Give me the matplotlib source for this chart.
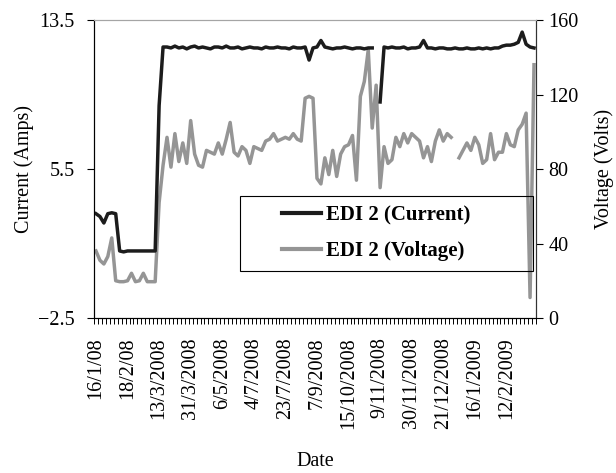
import numpy as np
import matplotlib
matplotlib.use('Agg')
import matplotlib.pyplot as plt
from matplotlib.patches import Rectangle

plt.rcParams['font.family'] = ['Liberation Serif', 'DejaVu Serif']

nan = np.nan
# current readings (Amps), one per category on the date axis
current = [3.1, 2.95, 2.6, 3.1, 3.15, 3.1,
           1.1, 1.05, 1.1, 1.1, 1.1, 1.1, 1.1, 1.1, 1.1, 1.1,
           8.9, 12.05,
           12.05, 12.0, 12.1, 12.0, 12.05, 11.95, 12.05, 12.1, 12.0, 12.05, 12.0, 11.95,
           12.05, 12.05, 12.0, 12.1, 12.0, 12.0, 12.05, 11.95, 12.0, 12.05, 12.0, 12.0,
           11.95, 12.05, 12.0, 12.0, 12.05, 12.0, 12.0, 11.95, 12.05, 12.0, 12.0, 12.05,
           11.35, 12.0, 12.05, 12.4, 12.05,
           12.0, 11.95, 12.0, 12.0, 12.05, 12.0, 11.95, 12.0, 12.0, 11.95, 12.0,
           12.0, nan, 9.1, 12.05,
           12.0, 12.05, 12.0, 12.0, 12.05, 11.95, 12.0, 12.0, 12.05,
           12.4,
           12.0, 12.0, 11.95, 12.0, 12.0, 11.95, 11.95, 12.0, 11.95, 11.95,
           12.0, 11.95, 11.95, 12.0, 11.95, 12.0, 11.95, 12.0, 12.0,
           12.1, 12.15, 12.15, 12.2, 12.3, 12.85, 12.2, 12.05, 12.0]

# voltage readings (Volts)
voltage = [36, 31, 29, 33, 43, 20,
           19.5, 19.5, 20, 24, 19.5, 20, 24, 19.5, 19.5, 19.5,
           62, 82,
           97, 81, 99, 84, 94, 83, 106, 88, 82, 81, 90, 89, 88, 94, 88, 96, 105, 89,
           87, 92, 90, 83, 92, 91, 90, 95, 96, 99, 95, 96, 97, 96, 99, 96, 95,
           118, 119, 118, 75, 72, 86, 77, 90, 76, 88, 92, 93, 98, 74,
           119, 127, 144, 102, 125, 70, 92, 83, 85, 97, 92, 99, 94, 99, 97, 95,
           86, 92, 84, 95, 101, 95, 99, 97, nan, 86, 90, 94, 90, 97, 93, 83, 85,
           99, 85, 89, 89, 99, 93, 92, 101, 104, 110, 11, 136]

date_labels = ['16/1/08', '18/2/08', '13/3/2008', '31/3/2008', '6/5/2008', '4/7/2008',
               '23/7/2008', '7/9/2008', '15/10/2008', '9/11/2008', '30/11/2008',
               '21/12/2008', '16/1/2009', '12/2/2009']

n = len(current)
x = np.arange(n)

fig = plt.figure(figsize=(6.16, 4.73), dpi=100)
ax = fig.add_axes([0.1526, 0.3277, 0.7175, 0.630])
ax2 = ax.twinx()

ax2.plot(x, voltage, color='#959595', lw=2.5, solid_joinstyle='round')
ax.plot(x, current, color='#1c1c1c', lw=2.5, solid_joinstyle='round')
ax.set_zorder(ax2.get_zorder() + 1)
ax.patch.set_visible(False)

ax.set_xlim(-0.5, n - 0.5)
ax.set_ylim(-2.5, 13.5)
ax2.set_ylim(0, 160)
ax.set_yticks([-2.5, 5.5, 13.5])
ax.set_yticklabels(['\u22122.5', '5.5', '13.5'])
ax2.set_yticks([0, 40, 80, 120, 160])

ax.set_xticks(np.arange(0, n, 8))
ax.set_xticklabels(date_labels, rotation=90)
ax.set_xticks(np.arange(-0.5, n, 1), minor=True)
ax.tick_params(axis='x', which='major', length=0, pad=14, labelsize=14.5)
ax.tick_params(axis='x', which='minor', length=4, width=0.7, direction='out')
ax.tick_params(axis='y', length=5, width=0.8, labelsize=14.5, pad=9)
ax2.tick_params(axis='y', length=5, width=0.8, labelsize=14.5, pad=4)

for a in (ax, ax2):
    a.spines['top'].set_color('#a5a5a5')
    a.spines['left'].set_color('black')
    a.spines['right'].set_color('#333333')
    a.spines['bottom'].set_color('black')

ax.set_ylabel('Current (Amps)', fontsize=14.5, labelpad=3)
ax2.set_ylabel('Voltage (Volts)', fontsize=14.5, labelpad=11)
ax.set_xlabel('Date', fontsize=14.5, labelpad=16)

# legend with its own box, like the original
ax.add_patch(Rectangle((0.33, 0.158), 0.663, 0.251, transform=ax.transAxes,
                       facecolor='none', edgecolor='black', lw=0.8, zorder=5))
h1, = ax.plot([], [], color='#1c1c1c', lw=3)
h2, = ax.plot([], [], color='#959595', lw=3)
leg = ax.legend([h1, h2], ['EDI 2 (Current)', 'EDI 2 (Voltage)'],
                loc='center left', bbox_to_anchor=(0.425, 0.284), frameon=False,
                prop={'weight': 'bold', 'size': 15}, handlelength=1.9,
                handletextpad=0.2, borderpad=0, borderaxespad=0, labelspacing=0.75)

fig.savefig('out.png', dpi=100)
